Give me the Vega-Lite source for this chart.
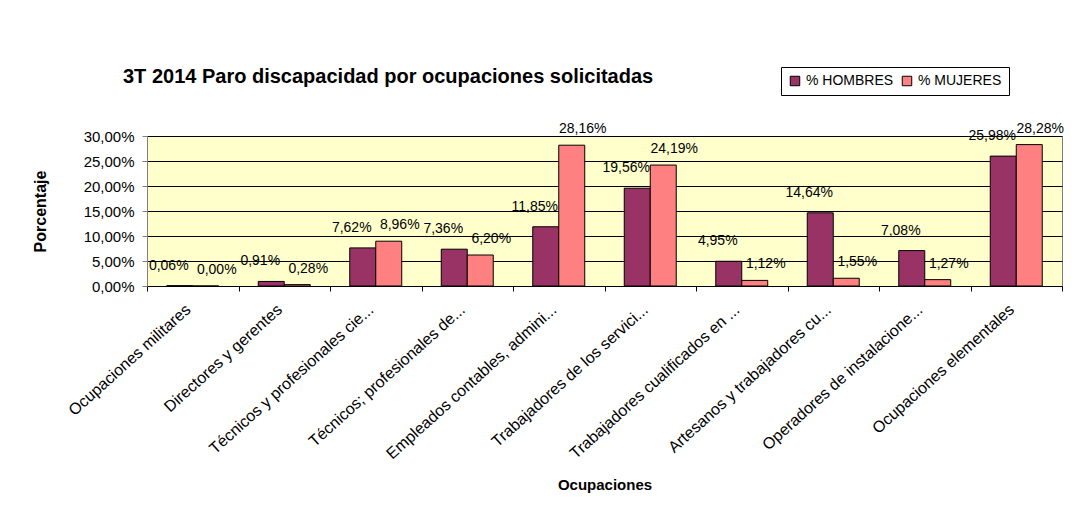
{
  "$schema": "https://vega.github.io/schema/vega-lite/v6.json",
  "autosize": {"type": "none"},
  "width": 915,
  "height": 150,
  "padding": {"left": 147, "top": 136, "right": 14, "bottom": 223},
  "background": "white",
  "title": {
    "text": "3T 2014 Paro discapacidad por ocupaciones solicitadas",
    "anchor": "start",
    "frame": "group",
    "dx": -24,
    "offset": -20,
    "font": "Liberation Sans",
    "fontSize": 20,
    "fontWeight": "bold",
    "color": "black"
  },
  "config": {
    "font": "Liberation Sans",
    "view": {"fill": "#FFFFCC", "stroke": "#808080", "strokeWidth": 1}
  },
  "data": {
    "values": [
      {"ocupacion": "Ocupaciones militares", "sexo": "% HOMBRES", "valor": 0.06},
      {"ocupacion": "Ocupaciones militares", "sexo": "% MUJERES", "valor": 0.00},
      {"ocupacion": "Directores y gerentes", "sexo": "% HOMBRES", "valor": 0.91},
      {"ocupacion": "Directores y gerentes", "sexo": "% MUJERES", "valor": 0.28},
      {"ocupacion": "Técnicos y profesionales cie...", "sexo": "% HOMBRES", "valor": 7.62},
      {"ocupacion": "Técnicos y profesionales cie...", "sexo": "% MUJERES", "valor": 8.96},
      {"ocupacion": "Técnicos; profesionales de...", "sexo": "% HOMBRES", "valor": 7.36},
      {"ocupacion": "Técnicos; profesionales de...", "sexo": "% MUJERES", "valor": 6.20},
      {"ocupacion": "Empleados contables, admini...", "sexo": "% HOMBRES", "valor": 11.85},
      {"ocupacion": "Empleados contables, admini...", "sexo": "% MUJERES", "valor": 28.16},
      {"ocupacion": "Trabajadores de los servici...", "sexo": "% HOMBRES", "valor": 19.56},
      {"ocupacion": "Trabajadores de los servici...", "sexo": "% MUJERES", "valor": 24.19},
      {"ocupacion": "Trabajadores cualificados en ...", "sexo": "% HOMBRES", "valor": 4.95},
      {"ocupacion": "Trabajadores cualificados en ...", "sexo": "% MUJERES", "valor": 1.12},
      {"ocupacion": "Artesanos y trabajadores cu...", "sexo": "% HOMBRES", "valor": 14.64},
      {"ocupacion": "Artesanos y trabajadores cu...", "sexo": "% MUJERES", "valor": 1.55},
      {"ocupacion": "Operadores de instalacione...", "sexo": "% HOMBRES", "valor": 7.08},
      {"ocupacion": "Operadores de instalacione...", "sexo": "% MUJERES", "valor": 1.27},
      {"ocupacion": "Ocupaciones elementales", "sexo": "% HOMBRES", "valor": 25.98},
      {"ocupacion": "Ocupaciones elementales", "sexo": "% MUJERES", "valor": 28.28}
    ]
  },
  "transform": [
    {"calculate": "replace(format(datum.valor, '.2f'), '.', ',') + '%'", "as": "etiqueta"}
  ],
  "encoding": {
    "x": {
      "field": "ocupacion",
      "type": "nominal",
      "sort": null,
      "scale": {"paddingInner": 0, "paddingOuter": 0},
      "axis": {
        "title": "Ocupaciones",
        "titleFont": "Liberation Sans",
        "titleFontSize": 15,
        "titleFontWeight": "bold",
        "titleColor": "black",
        "titlePadding": 16,
        "labelAngle": -42,
        "labelAlign": "right",
        "labelBaseline": "middle",
        "labelFontSize": 16,
        "labelColor": "black",
        "labelPadding": 16,
        "labelOffset": -5,
        "labelLimit": 400,
        "tickBand": "extent",
        "tickSize": 5,
        "tickColor": "black",
        "domainColor": "black",
        "grid": false
      }
    },
    "xOffset": {
      "field": "sexo",
      "type": "nominal",
      "scale": {"paddingInner": 0, "paddingOuter": 0.76}
    },
    "y": {
      "field": "valor",
      "type": "quantitative",
      "scale": {"domain": [0, 30], "nice": false},
      "axis": {
        "title": "Porcentaje",
        "titleFont": "Liberation Sans",
        "titleFontSize": 16,
        "titleFontWeight": "bold",
        "titleColor": "black",
        "titlePadding": 35,
        "values": [0, 5, 10, 15, 20, 25, 30],
        "labelExpr": "replace(format(datum.value, '.2f'), '.', ',') + '%'",
        "labelFontSize": 15,
        "labelColor": "black",
        "labelPadding": 8,
        "tickSize": 5,
        "tickColor": "#808080",
        "domainColor": "#808080",
        "gridColor": "black",
        "gridOpacity": 1,
        "gridWidth": 1
      }
    }
  },
  "layer": [
    {
      "mark": {"type": "bar", "stroke": "black", "strokeWidth": 1},
      "encoding": {
        "color": {
          "field": "sexo",
          "type": "nominal",
          "scale": {"domain": ["% HOMBRES", "% MUJERES"], "range": ["#993366", "#FF8080"]},
          "legend": {
            "title": null,
            "orient": "none",
            "legendX": 634,
            "legendY": -69,
            "direction": "horizontal",
            "symbolType": "square",
            "symbolSize": 90,
            "symbolStrokeColor": "black",
            "symbolStrokeWidth": 1,
            "labelFontSize": 14,
            "labelColor": "black",
            "labelFont": "Liberation Sans",
            "columnPadding": 6,
            "labelOffset": 4,
            "strokeColor": "black",
            "fillColor": "white",
            "padding": 7
          }
        }
      }
    },
    {
      "transform": [{"filter": "datum.sexo === '% HOMBRES'"}],
      "mark": {"type": "text", "fontSize": 14, "color": "black", "baseline": "middle", "dy": -20, "dx": -11, "font": "Liberation Sans"},
      "encoding": {
        "text": {"field": "etiqueta"}
      }
    },
    {
      "transform": [{"filter": "datum.sexo === '% MUJERES'"}],
      "mark": {"type": "text", "fontSize": 14, "color": "black", "baseline": "middle", "dy": -16, "dx": 11, "font": "Liberation Sans"},
      "encoding": {
        "text": {"field": "etiqueta"}
      }
    }
  ]
}
